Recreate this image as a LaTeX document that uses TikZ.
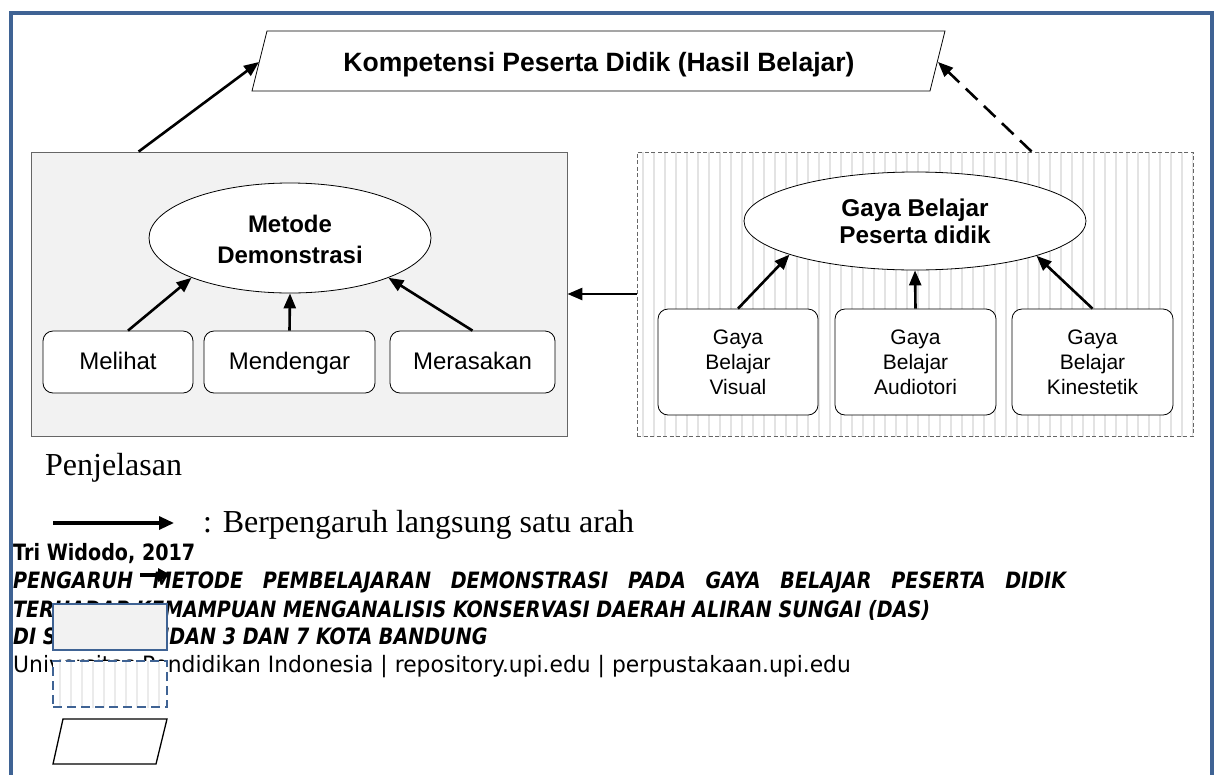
\documentclass[tikz,border=0pt]{standalone}
\usepackage{fontspec}
\setmainfont{Liberation Serif}
\newfontfamily\arial{Liberation Sans}
\newfontfamily\footr[FakeStretch=0.97]{DejaVu Sans}
\newfontfamily\footb[FakeStretch=0.85]{DejaVu Sans}
\usetikzlibrary{arrows.meta,shapes.geometric}
\definecolor{frameblue}{HTML}{3F6394}
\definecolor{boxgray}{HTML}{F2F2F2}
\definecolor{stripegray}{HTML}{E3E3E3}
\definecolor{edgegray}{HTML}{666666}
\begin{document}
\begin{tikzpicture}[x=1pt,y=-1pt,
  arr/.style={line width=2.6pt,-{Triangle[length=15pt,width=12pt]}},
  darr/.style={arr,dash pattern=on 16pt off 9pt},
  rbox/.style={draw,fill=white,rounded corners=10pt,line width=0.8pt,inner sep=0pt},
  oval/.style={ellipse,draw,fill=white,line width=0.8pt,inner sep=0pt,align=center},
  smalltxt/.style={font=\arial\fontsize{24}{28}\selectfont,text height=17pt,text depth=2pt},
  gayatxt/.style={font=\arial\fontsize{21}{25}\selectfont,align=center},
  boldtxt/.style={font=\arial\bfseries\fontsize{24}{31}\selectfont},
  legtxt/.style={font=\fontsize{32}{36}\selectfont,anchor=base west,inner sep=0pt},
  footbold/.style={font=\footb\bfseries\fontsize{22.5}{28}\selectfont,anchor=base west,inner sep=0pt},
  footbi/.style={font=\footb\bfseries\itshape\fontsize{22.5}{28}\selectfont,anchor=base west,inner sep=0pt},
  footreg/.style={font=\footr\fontsize{22.5}{28}\selectfont,anchor=base west,inner sep=0pt},
  stripe/.style={solid,stripegray,line width=2.8pt}
]
\useasboundingbox (0,0) rectangle (1222,774);
% outer frame
\draw[frameblue,line width=3.5pt] (11,780) -- (11,13) -- (1212,13) -- (1212,780);

% top parallelogram
\draw[line width=0.8pt] (267,31) -- (945,31) -- (930,91) -- (252,91) -- cycle;
\node[font=\arial\bfseries\fontsize{26.5}{30}\selectfont,anchor=base,inner sep=0pt] (komp) at (599,71) {Kompetensi Peserta Didik (Hasil Belajar)};
\coordinate (kompL) at (259,62);
\coordinate (kompR) at (938,62);

% left box
\node[draw=edgegray,fill=boxgray,line width=0.8pt,minimum width=536pt,minimum height=284pt,inner sep=0pt] (lbox) at (299,294) {};
\node[oval,minimum width=282pt,minimum height=110pt] (demo) at (290,238) {};
\node[boldtxt,align=center] at (290,239) {Metode\\Demonstrasi};
\node[rbox,minimum width=150pt,minimum height=62pt,smalltxt] (mel) at (118,362) {Melihat};
\node[rbox,minimum width=171pt,minimum height=62pt,smalltxt] (men) at (289.5,362) {Mendengar};
\node[rbox,minimum width=165pt,minimum height=62pt,smalltxt] (mer) at (472.5,362) {Merasakan};
\draw[arr] ([xshift=10pt]mel.north) -- (demo.202);
\draw[arr] (men.north) -- (demo.south);
\draw[arr] (mer.north) -- (demo.338);

% right box (striped, dashed border)
\node[draw=edgegray,fill=white,dash pattern=on 4pt off 2.5pt,line width=0.9pt,minimum width=556pt,minimum height=284pt,inner sep=0pt,
  path picture={\foreach \x in {-272,-261,...,280} \draw[stripe] (\x,-160) -- (\x,160);}] (rb) at (915,294) {};
\node[oval,minimum width=342pt,minimum height=98pt] (gaya) at (915,221) {};
\node[font=\arial\bfseries\fontsize{24.3}{27}\selectfont,align=center] at (915,221) {Gaya Belajar\\Peserta didik};
\node[rbox,minimum width=160pt,minimum height=106pt,gayatxt] (vis) at (738,362) {Gaya\\Belajar\\Visual};
\node[rbox,minimum width=161pt,minimum height=106pt,gayatxt] (aud) at (915.5,362) {Gaya\\Belajar\\Audiotori};
\node[rbox,minimum width=161pt,minimum height=106pt,gayatxt] (kin) at (1092.5,362) {Gaya\\Belajar\\Kinestetik};
\draw[arr] (vis.north) -- (gaya.195.6);
\draw[arr] (aud.north) -- (gaya.south);
\draw[arr] (kin.north) -- (gaya.344.5);

% connectors between groups
\draw[arr] (rb.west) -- (lbox.east);
\draw[arr] ([xshift=108pt]lbox.north west) -- (kompL);
\draw[darr] ([xshift=395pt]rb.north west) -- (kompR);

% legend
\node[legtxt] (pen) at (45,475) {Penjelasan};
\coordinate (legA) at (53,523);
\coordinate (legB) at (174,523);
\draw[line width=3.2pt,-{Triangle[length=15pt,width=13pt]}] (legA) -- (legB);
\node[legtxt] (leg1) at (203,532) {: Berpengaruh langsung satu arah};

% footer
\coordinate (hA) at (140,575);
\coordinate (hB) at (171,575);
\draw[line width=3.2pt,-{Triangle[length=13pt,width=13pt]}] (hA) -- (hB);
\node[footbold] (f1) at (13,560) {Tri Widodo, 2017};
\node[footbi] (f2) at (13,588) {\makebox[1053pt][s]{PENGARUH METODE PEMBELAJARAN DEMONSTRASI PADA GAYA BELAJAR PESERTA DIDIK}};
\node[footbi] (f3) at (13,617) {TERHADAP KEMAMPUAN MENGANALISIS KONSERVASI DAERAH ALIRAN SUNGAI (DAS)};
\node[footbi] (f4) at (13,644) {DI SMA PASUNDAN 3 DAN 7 KOTA BANDUNG};
\node[footreg] (f5) at (13,672) {Universitas Pendidikan Indonesia | repository.upi.edu | perpustakaan.upi.edu};

% legend symbols
\node[draw=frameblue,fill=boxgray,line width=1.2pt,minimum width=114pt,minimum height=46pt,inner sep=0pt] (lg1) at (110,627) {};
\node[draw=frameblue,fill=white,dash pattern=on 9pt off 5pt,line width=1.8pt,minimum width=114pt,minimum height=46pt,inner sep=0pt,
  path picture={\foreach \x in {-50,-39,...,60} \draw[stripe,stripegray!70] (\x,-30) -- (\x,30);}] (lg2) at (110,684) {};
\draw[line width=1.3pt] (63,719) -- (167,719) -- (156,764) -- (53,764) -- cycle;
\end{tikzpicture}
\end{document}
